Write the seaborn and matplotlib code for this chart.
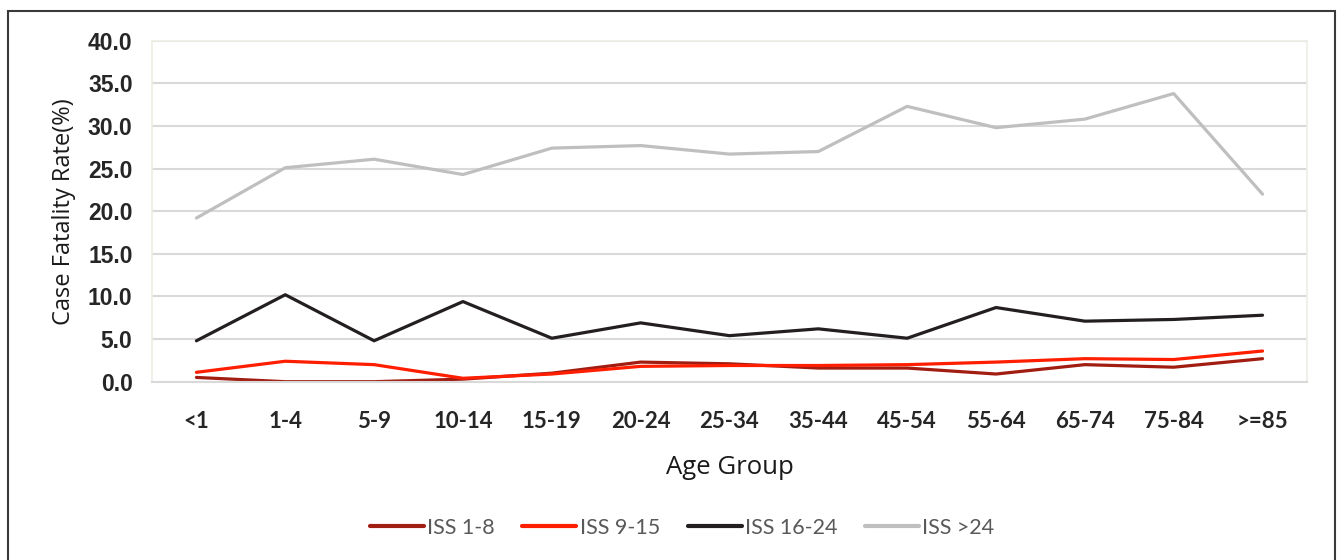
import pandas as pd
import seaborn as sns
import matplotlib.pyplot as plt
from matplotlib.patches import Rectangle

# ---- Data ----
ages = ['<1', '1-4', '5-9', '10-14', '15-19', '20-24', '25-34',
        '35-44', '45-54', '55-64', '65-74', '75-84', '>=85']
iss_1_8 = [0.5, 0.0, 0.0, 0.3, 1.0, 2.3, 2.1, 1.6, 1.6, 0.9, 2.0, 1.7, 2.7]
iss_9_15 = [1.1, 2.4, 2.0, 0.4, 0.9, 1.8, 1.9, 1.9, 2.0, 2.3, 2.7, 2.6, 3.6]
iss_16_24 = [4.8, 10.2, 4.8, 9.4, 5.1, 6.9, 5.4, 6.2, 5.1, 8.7, 7.1, 7.3, 7.8]
iss_gt24 = [19.2, 25.1, 26.1, 24.3, 27.4, 27.7, 26.7, 27.0, 32.3, 29.8, 30.8, 33.8, 22.0]

series_names = ['ISS 1-8', 'ISS 9-15', 'ISS 16-24', 'ISS >24']
series_colors = ['#A21D11', '#FF1E00', '#231F20', '#BFBFBF']

frames = []
for name, vals in zip(series_names, [iss_1_8, iss_9_15, iss_16_24, iss_gt24]):
    frames.append(pd.DataFrame({'age': ages, 'cfr': vals, 'group': name}))
df = pd.concat(frames, ignore_index=True)

sns.set_style("white")
plt.rcParams['font.family'] = ['Open Sans', 'DejaVu Sans']

fig = plt.figure(figsize=(13.38, 5.6), dpi=100)
ax = fig.add_axes([0.1136, 0.3184, 0.8632, 0.6089])

sns.lineplot(data=df, x='age', y='cfr', hue='group', hue_order=series_names,
             palette=series_colors, linewidth=2.3, sort=False, ax=ax)

ax.set_xlim(-0.5, len(ages) - 0.5)
ax.set_ylim(0, 40)
ax.set_yticks(range(0, 41, 5))
ax.set_yticklabels([f"{v:.1f}" for v in range(0, 41, 5)],
                   fontfamily='Liberation Sans', fontweight='bold', fontsize=16.5)
ax.set_xticks(range(len(ages)))
ax.set_xticklabels(ages, fontfamily='Lato', fontweight='bold', fontsize=16)
ax.tick_params(axis='y', length=0, pad=14)
ax.tick_params(axis='x', length=0, pad=21)

ax.grid(axis='y', color='#D9D9D9', linewidth=1.5)
ax.grid(axis='x', visible=False)
for side in ['left', 'top', 'right']:
    ax.spines[side].set_color('#EDEDE4')
    ax.spines[side].set_linewidth(1.2)
ax.spines['bottom'].set_color('#D9D9D9')
ax.spines['bottom'].set_linewidth(1.5)

ax.set_xlabel('Age Group', fontsize=18.5, color='#1a1a1a')
ax.set_ylabel('Case Fatality Rate(%)', fontsize=17, color='#1a1a1a')
ax.xaxis.set_label_coords(0.5, -0.215)
ax.yaxis.set_label_coords(-0.066, 0.5)

handles, labels = ax.get_legend_handles_labels()
leg = ax.legend(handles, labels, loc='center', bbox_to_anchor=(0.459, -0.428),
                ncol=4, frameon=False, handlelength=2.5, handletextpad=0.15,
                columnspacing=1.3, prop={'family': 'Lato', 'size': 15.5})
for t in leg.get_texts():
    t.set_color('#595959')
for h in leg.get_lines():
    h.set_linewidth(3)

# outer chart frame
fig.patches.append(Rectangle((8 / 1338, -0.1), (1335 - 8) / 1338, 0.1 + (560 - 11) / 560,
                             transform=fig.transFigure, fill=False,
                             edgecolor='#3a3a3a', linewidth=1.5))

plt.savefig("out.png", dpi=100)
